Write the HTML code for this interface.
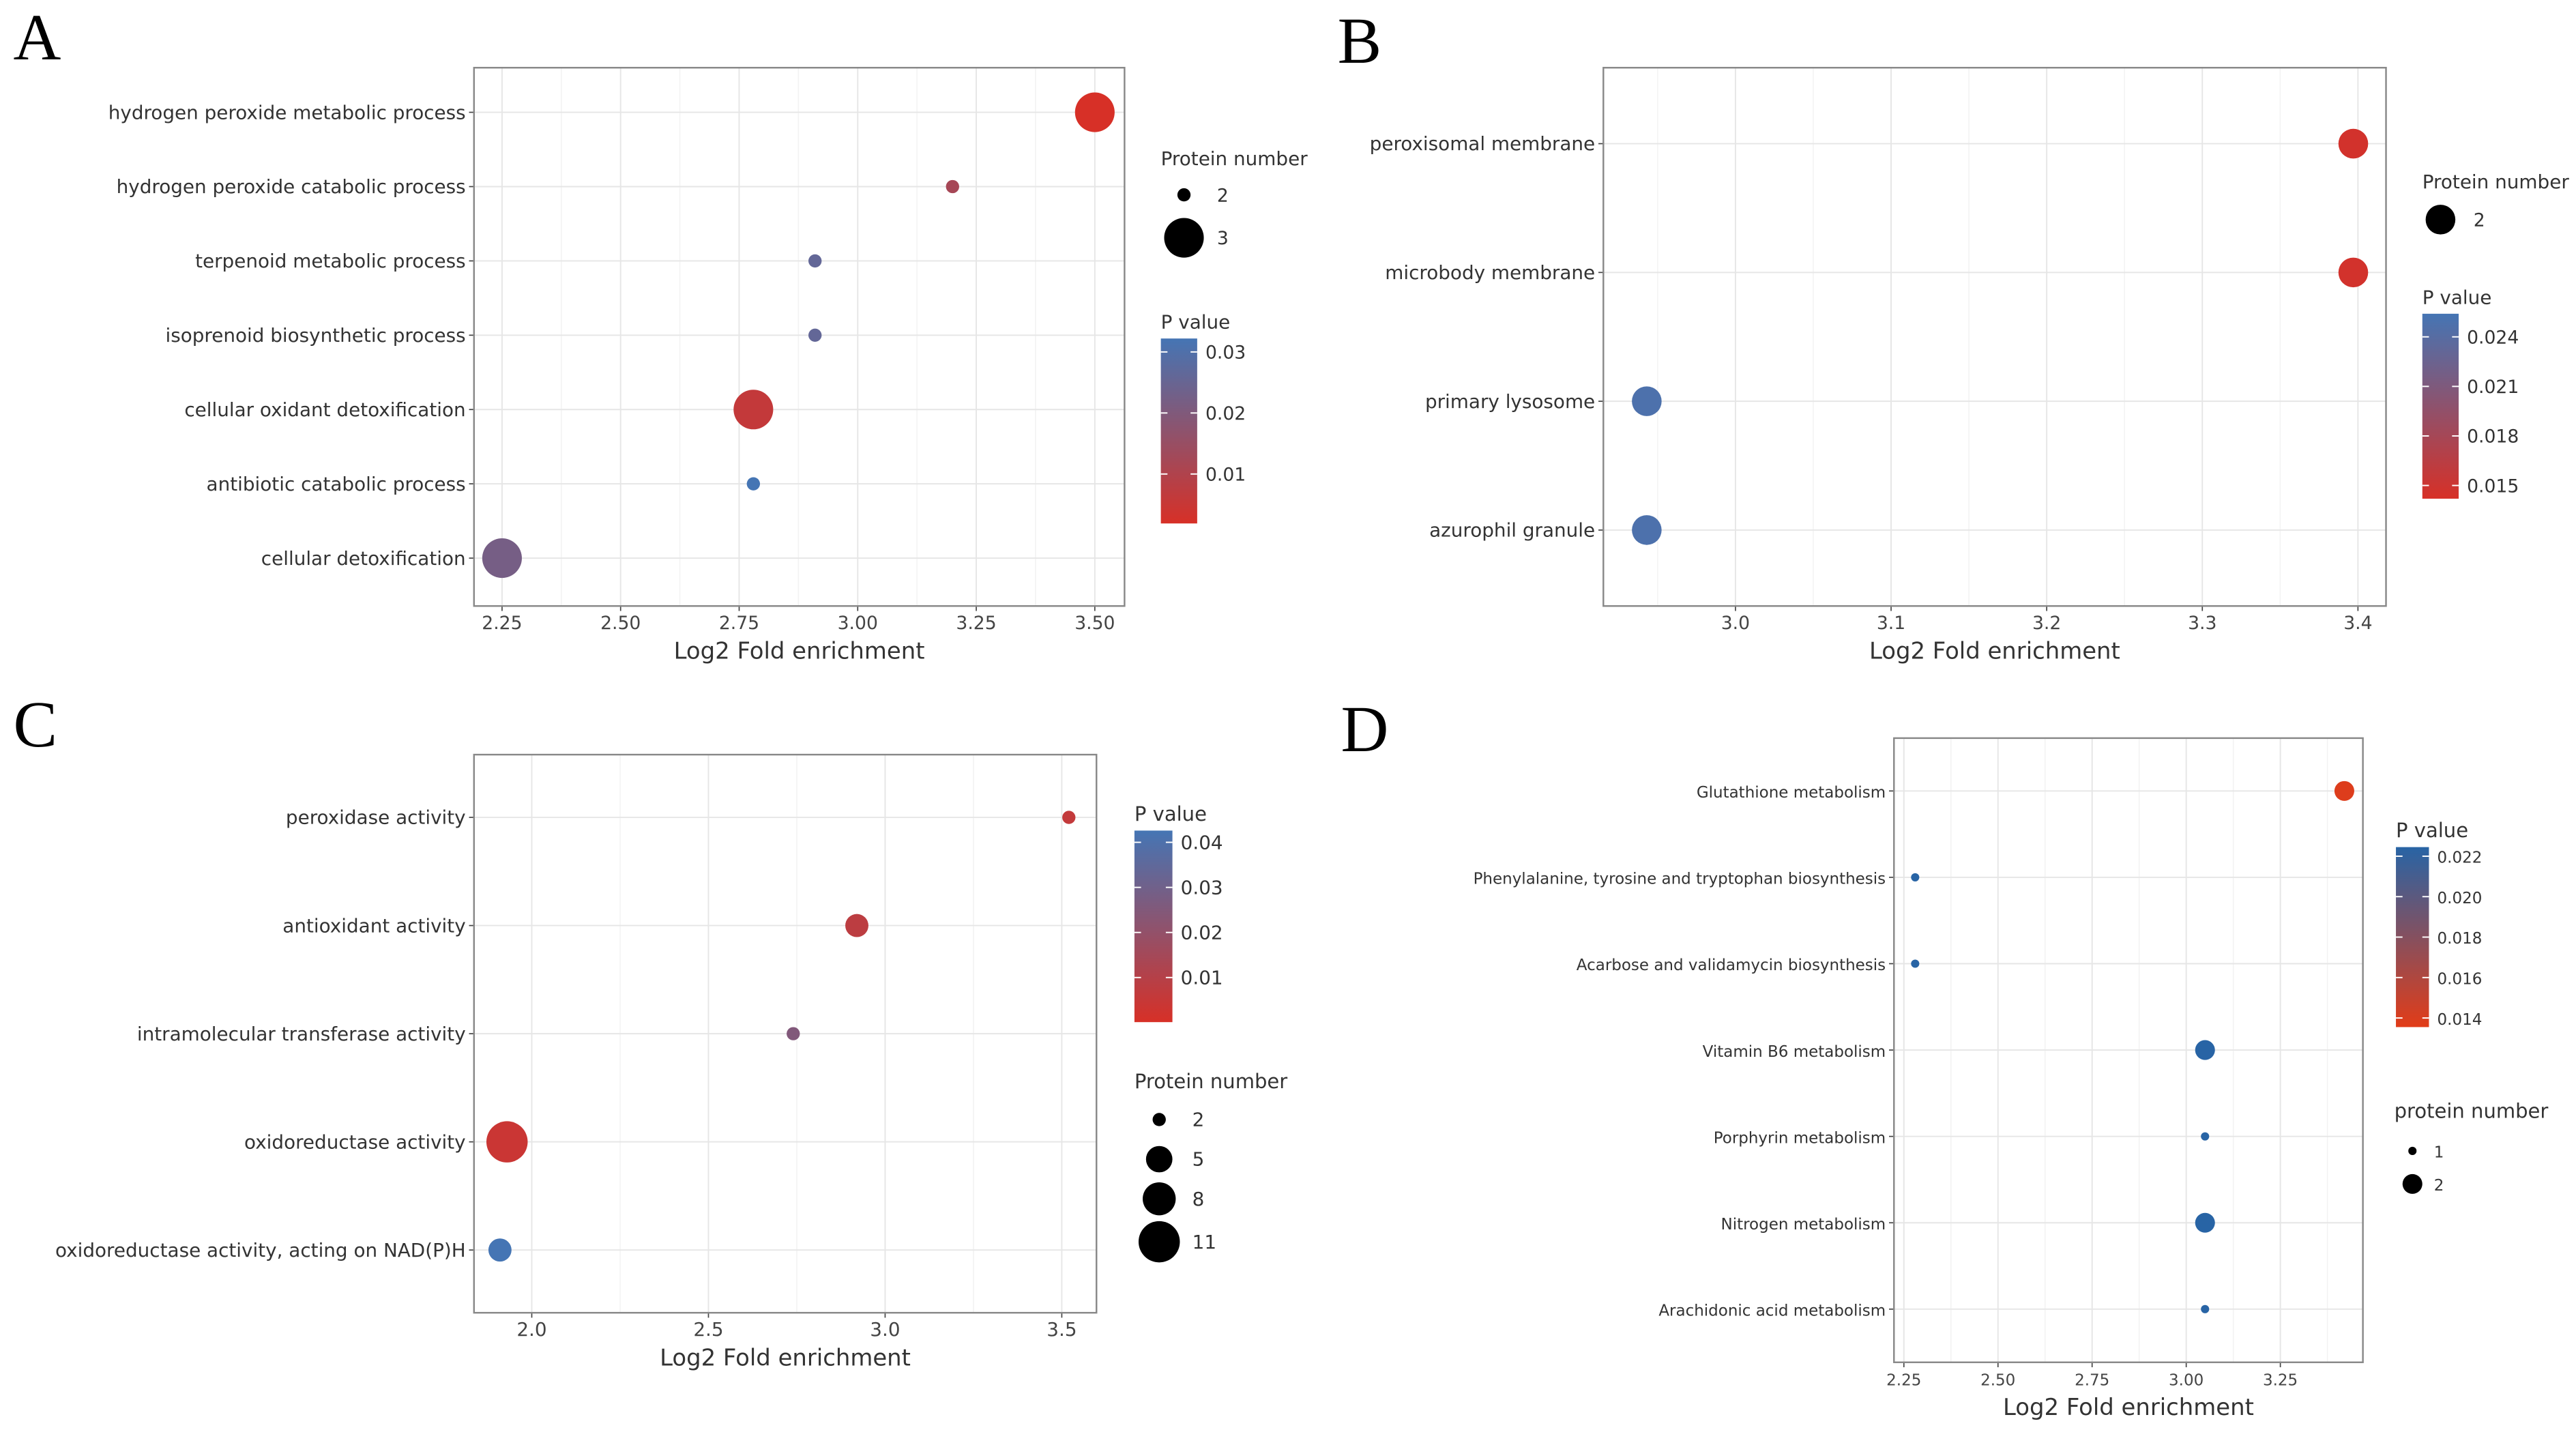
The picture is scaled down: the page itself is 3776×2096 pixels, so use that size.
<!DOCTYPE html>
<html><head><meta charset="utf-8"><style>
html,body{margin:0;padding:0;background:#fff;}
svg{display:block;font-family:"DejaVu Sans","Liberation Sans",sans-serif;}
</style></head><body>
<svg id="fig" width="3776" height="2096" viewBox="0 0 1560 866" xmlns="http://www.w3.org/2000/svg"></svg>
<script>
// ---- Panel A data ----
const aTerms=["hydrogen peroxide metabolic process","hydrogen peroxide catabolic process","terpenoid metabolic process","isoprenoid biosynthetic process","cellular oxidant detoxification","antibiotic catabolic process","cellular detoxification"];
const aFold=[3.50,3.20,2.91,2.91,2.78,2.78,2.25];
const aCount=[3,2,2,2,3,2,3];
const aP=[0.002,0.012,0.026,0.026,0.006,0.033,0.022];
const aXTicks=[2.25,2.50,2.75,3.00,3.25,3.50];
const aPTicks=[0.01,0.02,0.03];
const aSizeLegend=[2,3];
// ---- Panel B data ----
const bTerms=["peroxisomal membrane","microbody membrane","primary lysosome","azurophil granule"];
const bFold=[3.397,3.397,2.943,2.943];
const bCount=[2,2,2,2];
const bP=[0.0146,0.0146,0.0248,0.0248];
const bXTicks=[3.0,3.1,3.2,3.3,3.4];
const bPTicks=[0.015,0.018,0.021,0.024];
const bSizeLegend=[2];
// ---- Panel C data ----
const cTerms=["peroxidase activity","antioxidant activity","intramolecular transferase activity","oxidoreductase activity","oxidoreductase activity, acting on NAD(P)H"];
const cFold=[3.52,2.92,2.74,1.93,1.91];
const cCount=[2,4,2,11,4];
const cP=[0.006,0.008,0.025,0.004,0.043];
const cXTicks=[2.0,2.5,3.0,3.5];
const cPTicks=[0.01,0.02,0.03,0.04];
const cSizeLegend=[2,5,8,11];
// ---- Panel D data ----
const dTerms=["Glutathione metabolism","Phenylalanine, tyrosine and tryptophan biosynthesis","Acarbose and validamycin biosynthesis","Vitamin B6 metabolism","Porphyrin metabolism","Nitrogen metabolism","Arachidonic acid metabolism"];
const dFold=[3.42,2.28,2.28,3.05,3.05,3.05,3.05];
const dCount=[2,1,1,2,1,2,1];
const dP=[0.0138,0.0225,0.0225,0.0225,0.0225,0.0225,0.0225];
const dXTicks=[2.25,2.50,2.75,3.00,3.25];
const dPTicks=[0.014,0.016,0.018,0.020,0.022];
const dSizeLegend=[1,2];

const NS="http://www.w3.org/2000/svg";
const fig=document.getElementById('fig');
function mk(tag,attrs,parent,text){const e=document.createElementNS(NS,tag);for(const k in attrs)e.setAttribute(k,attrs[k]);if(text!==undefined)e.textContent=text;(parent||fig).appendChild(e);return e;}
function lerpColor(c1,c2,t){t=Math.max(0,Math.min(1,t));const r=Math.round(c1[0]+(c2[0]-c1[0])*t),g=Math.round(c1[1]+(c2[1]-c1[1])*t),b=Math.round(c1[2]+(c2[2]-c1[2])*t);return `rgb(${r},${g},${b})`;}

function panel(cfg){
  const g=mk('g',{},fig);
  
  
  const {x0,x1,y0,y1,xmin,xmax,xpx0,xpx1}=cfg;
  const xs=v=>xpx0+(v-xmin)/(xmax-xmin)*(xpx1-xpx0);
  const ys=i=>cfg.rows[0]+i*(cfg.rows[1]-cfg.rows[0]);
  const pmin=cfg.pBar[0],pmax=cfg.pBar[1];
  const col=p=>lerpColor(cfg.low,cfg.high,(p-pmin)/(pmax-pmin));
  mk('rect',{x:x0,y:y0,width:x1-x0,height:y1-y0,fill:'#fff'},g);
  const xt=cfg.xticks;
  for(let i=0;i<xt.length-1;i++){const m=xs((xt[i]+xt[i+1])/2);mk('line',{x1:m,x2:m,y1:y0,y2:y1,stroke:'#f2f2f2','stroke-width':0.6},g);}
  const step=xt[1]-xt[0];
  [xt[0]-step/2,xt[xt.length-1]+step/2].forEach(v=>{const m=xs(v);if(m>x0&&m<x1)mk('line',{x1:m,x2:m,y1:y0,y2:y1,stroke:'#f2f2f2','stroke-width':0.6},g);});
  xt.forEach(v=>{const px=xs(v);
    const l=mk('line',{x1:px,x2:px,y1:y0,y2:y1,stroke:'#e6e6e6','stroke-width':0.8},g);
    
    mk('line',{x1:px,x2:px,y1:y1,y2:y1+3,stroke:'#444','stroke-width':0.7},g);
    const t=mk('text',{x:px,y:y1+14,'font-size':cfg.tickFs,'text-anchor':'middle',fill:'#444'},g,cfg.xfmt(v));
    
  });
  cfg.terms.forEach((term,i)=>{const py=ys(i);
    mk('line',{x1:x0,x2:x1,y1:py,y2:py,stroke:'#e6e6e6','stroke-width':0.8},g);
    mk('line',{x1:x0-3,x2:x0,y1:py,y2:py,stroke:'#444','stroke-width':0.7},g);
    const t=mk('text',{x:x0-5,y:py+4,'font-size':cfg.labFs,'text-anchor':'end',fill:'#333'},g,term);
    
  });
  mk('rect',{x:x0,y:y0,width:x1-x0,height:y1-y0,fill:'none',stroke:'#888','stroke-width':1},g);
  cfg.terms.forEach((term,i)=>{
    const c=mk('circle',{cx:xs(cfg.fold[i]),cy:ys(i),r:cfg.rad(cfg.count[i]),fill:col(cfg.p[i])},g);
    
    
  });
  const xt2=mk('text',{x:(x0+x1)/2,y:y1+32,'font-size':cfg.axFs,'text-anchor':'middle',fill:'#333'},g,'Log2 Fold enrichment');
  
  const cb=cfg.cb;const gid='grad'+cfg.name;
  const defs=mk('defs',{},g);const lg=mk('linearGradient',{id:gid,x1:0,y1:0,x2:0,y2:1},defs);
  mk('stop',{offset:'0',"stop-color":col(pmax)},lg);mk('stop',{offset:'0.5',"stop-color":col((pmin+pmax)/2)},lg);mk('stop',{offset:'1',"stop-color":col(pmin)},lg);
  const ct=mk('text',{x:cb.x,y:cb.y0-6,'font-size':cfg.legFs,fill:'#333'},g,cfg.pTitle);
  
  const bar=mk('rect',{x:cb.x,y:cb.y0,width:cb.w,height:cb.y1-cb.y0,fill:`url(#${gid})`},g);
  
  const py=p=>cb.y1-(p-pmin)/(pmax-pmin)*(cb.y1-cb.y0);
  cfg.pticks.forEach(p=>{const yy=py(p);
    mk('line',{x1:cb.x,x2:cb.x+4,y1:yy,y2:yy,stroke:'#fff','stroke-width':0.8},g);
    mk('line',{x1:cb.x+cb.w-4,x2:cb.x+cb.w,y1:yy,y2:yy,stroke:'#fff','stroke-width':0.8},g);
    const t=mk('text',{x:cb.x+cb.w+5,y:yy+4,'font-size':cfg.tickFs,fill:'#333'},g,cfg.pfmt(p));
    
  });
  const sl=cfg.sl;
  const st=mk('text',{x:sl.x,y:sl.y,'font-size':cfg.legFs,fill:'#333'},g,cfg.sTitle);
  
  cfg.sizes.forEach((s,i)=>{const yy=sl.ys[i];
    const c=mk('circle',{cx:sl.cx,cy:yy,r:cfg.rad(s),fill:'#000'},g);
    
    const t=mk('text',{x:sl.cx+cfg.sl.dx,y:yy+4,'font-size':cfg.tickFs,fill:'#333'},g,String(s));
    
  });
}
const RED=[215,48,39],BLUE=[69,117,180];
panel({name:'panel-a',terms:aTerms,fold:aFold,count:aCount,p:aP,xticks:aXTicks,pticks:aPTicks,sizes:aSizeLegend,
  x0:287,x1:681,y0:41,y1:367,xmin:2.25,xmax:3.5,xpx0:304,xpx1:663,rows:[68,113],
  pBar:[0.0019,0.0322],low:RED,high:BLUE,cb:{x:703,y0:205,y1:317,w:22},
  sl:{x:703,y:100,cx:717,ys:[118,144],dx:20},rad:s=>s>=3?12:4,
  xfmt:v=>v.toFixed(2),pfmt:p=>p.toFixed(2),pTitle:'P value',sTitle:'Protein number',
  tickFs:11,labFs:11.5,axFs:14,legFs:11.5});
panel({name:'panel-b',terms:bTerms,fold:bFold,count:bCount,p:bP,xticks:bXTicks,pticks:bPTicks,sizes:bSizeLegend,
  x0:971,x1:1445,y0:41,y1:367,xmin:3.0,xmax:3.4,xpx0:1051,xpx1:1428,rows:[87,165],
  pBar:[0.0142,0.0254],low:RED,high:BLUE,cb:{x:1467,y0:190,y1:302,w:22},
  sl:{x:1467,y:114,cx:1478,ys:[133],dx:20},rad:s=>9,
  xfmt:v=>v.toFixed(1),pfmt:p=>p.toFixed(3),pTitle:'P value',sTitle:'Protein number',
  tickFs:11,labFs:11.5,axFs:14,legFs:11.5});
panel({name:'panel-c',terms:cTerms,fold:cFold,count:cCount,p:cP,xticks:cXTicks,pticks:cPTicks,sizes:cSizeLegend,
  x0:287,x1:664,y0:457,y1:795,xmin:2.0,xmax:3.5,xpx0:322,xpx1:643,rows:[495,560.5],
  pBar:[0.0001,0.0426],low:RED,high:BLUE,cb:{x:687,y0:503,y1:619,w:23},
  sl:{x:687,y:659,cx:702,ys:[678,702,726,752],dx:20},rad:s=>s>=11?12.5:s>=8?10:s>=5?8:s>=4?7:4,
  xfmt:v=>v.toFixed(1),pfmt:p=>p.toFixed(2),pTitle:'P value',sTitle:'Protein number',
  tickFs:11.5,labFs:11.5,axFs:14,legFs:12});
panel({name:'panel-d',terms:dTerms,fold:dFold,count:dCount,p:dP,xticks:dXTicks,pticks:dPTicks,sizes:dSizeLegend,
  x0:1147,x1:1431,y0:447,y1:825,xmin:2.25,xmax:3.25,xpx0:1153,xpx1:1381,rows:[479,531.3],
  pBar:[0.01355,0.02245],low:[226,60,24],high:[40,100,165],cb:{x:1451,y0:513,y1:622,w:20},
  sl:{x:1450,y:677,cx:1461,ys:[697,717],dx:13},rad:s=>s>=2?6:2.5,
  xfmt:v=>v.toFixed(2),pfmt:p=>p.toFixed(3),pTitle:'P value',sTitle:'protein number',
  tickFs:9.5,labFs:9.5,axFs:14,legFs:12});
[["A",8,36],["B",810,38],["C",8,452],["D",812,455]].forEach(([l,x,y])=>{
  const t=mk('text',{x:x,y:y,'font-size':40,'font-family':'"Liberation Serif",serif',fill:'#000'},fig,l);
  
  
});
</script>
</body></html>
